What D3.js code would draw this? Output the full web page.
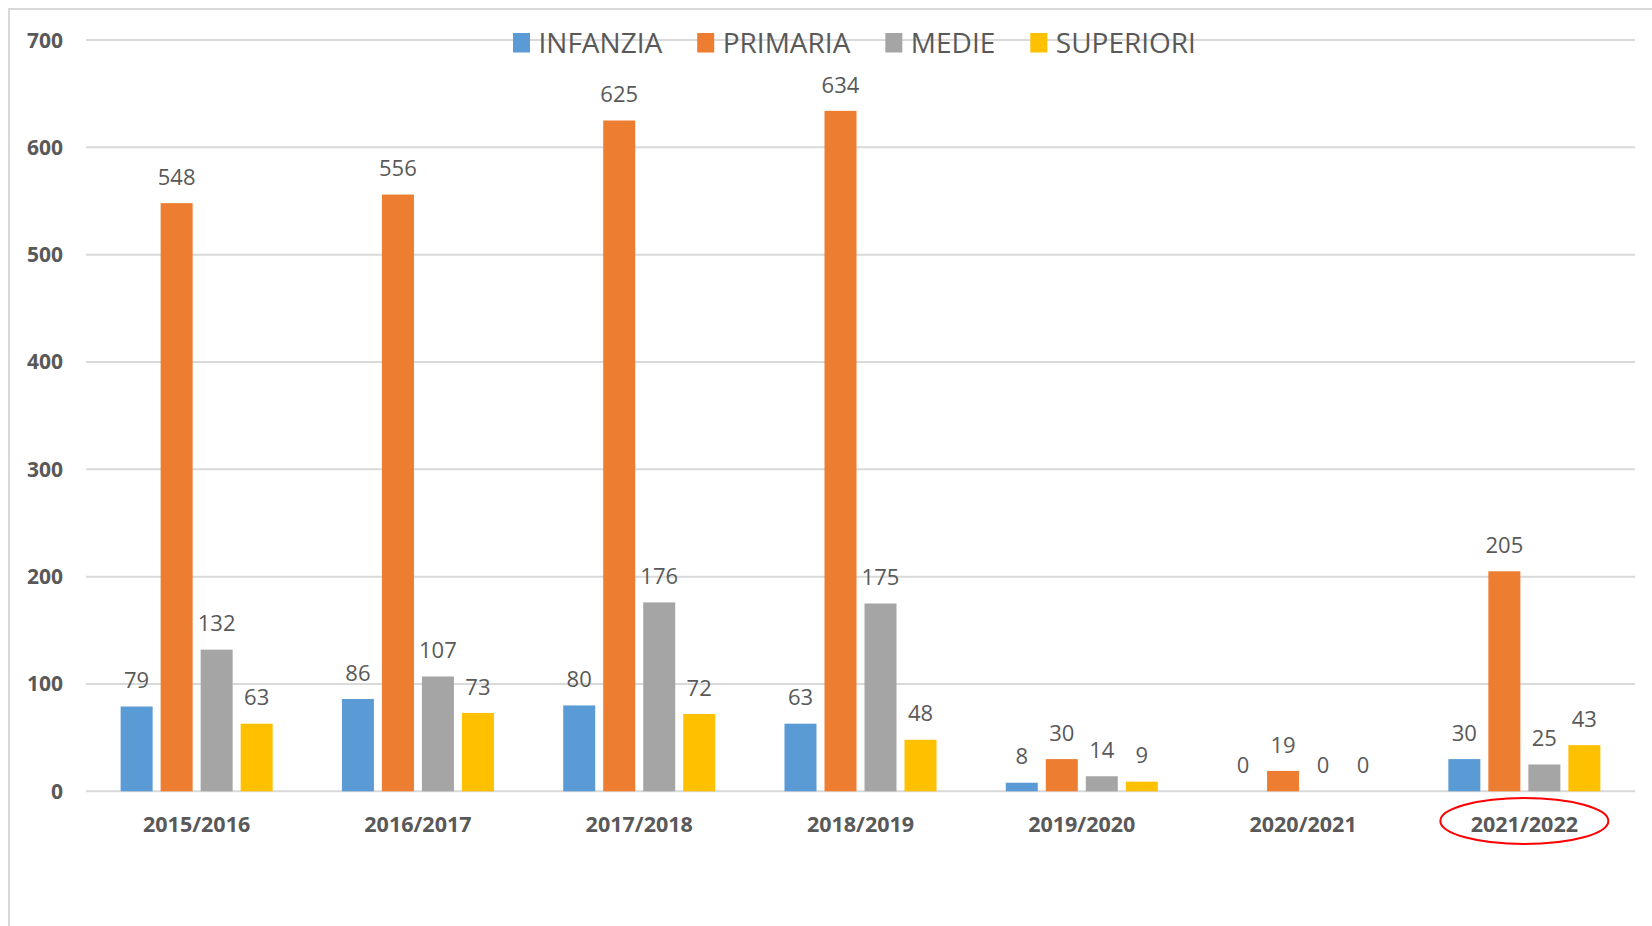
<!DOCTYPE html>
<html>
<head>
<meta charset="utf-8">
<script src="https://cdn.jsdelivr.net/npm/d3@7"></script>
<style>
  html, body { margin: 0; padding: 0; background: #fff; }
  svg { display: block; font-family: "Open Sans", sans-serif; }
</style>
</head>
<body>
<div class="chart"></div>
<script>
// data
var years = ["2015/2016", "2016/2017", "2017/2018", "2018/2019", "2019/2020", "2020/2021", "2021/2022"];
var series = ["INFANZIA", "PRIMARIA", "MEDIE", "SUPERIORI"];
var infanzia = [79, 86, 80, 63, 8, 0, 30];
var primaria = [548, 556, 625, 634, 30, 19, 205];
var medie = [132, 107, 176, 175, 14, 0, 25];
var superiori = [63, 73, 72, 48, 9, 0, 43];
var yTicks = [0, 100, 200, 300, 400, 500, 600, 700];
var colors = ["#5b9bd5", "#ed7d31", "#a5a5a5", "#ffc000"];
var highlighted = "2021/2022";

var values = [infanzia, primaria, medie, superiori];
var width = 1652, height = 926;
var textColor = "#595959";
var gridColor = "#d9d9d9";

var svg = d3.select(".chart").append("svg")
    .attr("width", width)
    .attr("height", height);

// chart border (runs off the right and bottom of the picture)
svg.append("path")
    .attr("d", "M9," + height + "V9H" + width)
    .attr("fill", "none")
    .attr("stroke", gridColor)
    .attr("stroke-width", 2);

var x0 = d3.scaleBand()
    .domain(years)
    .range([86, 1635])
    .paddingInner(0.313)
    .paddingOuter(0.1565);

var x1 = d3.scaleBand()
    .domain(series)
    .range([0, x0.bandwidth()])
    .paddingInner(0.2)
    .paddingOuter(0);

var y = d3.scaleLinear()
    .domain([0, 700])
    .range([791.3, 40]);

//gridlines
svg.append("g")
    .selectAll("line")
    .data(yTicks)
    .join("line")
    .attr("x1", 86)
    .attr("x2", 1635)
    .attr("y1", d => y(d))
    .attr("y2", d => y(d))
    .attr("stroke", gridColor)
    .attr("stroke-width", 2);

//y labels
svg.append("g")
    .selectAll("text")
    .data(yTicks)
    .join("text")
    .attr("x", 63)
    .attr("y", d => y(d) + 7.5)
    .attr("text-anchor", "end")
    .attr("font-size", "21px")
    .attr("font-weight", "bold")
    .attr("fill", textColor)
    .text(d => d);

//x labels
svg.append("g")
    .selectAll("text")
    .data(years)
    .join("text")
    .attr("x", d => x0(d) + x0.bandwidth() / 2)
    .attr("y", 831.7)
    .attr("text-anchor", "middle")
    .attr("font-size", "21.5px")
    .attr("font-weight", "bold")
    .attr("fill", textColor)
    .text(d => d);

//bars and labels
var groups = svg.append("g")
    .selectAll("g")
    .data(years)
    .join("g")
    .attr("transform", d => "translate(" + x0(d) + ",0)");

var cells = groups.selectAll("g")
    .data((d, i) => series.map((s, j) => ({ key: s, value: values[j][i], color: colors[j] })))
    .join("g");

cells.append("rect")
    .attr("x", d => x1(d.key))
    .attr("width", x1.bandwidth())
    .attr("y", d => y(d.value))
    .attr("height", d => y(0) - y(d.value))
    .attr("fill", d => d.color);

cells.append("text")
    .attr("x", d => x1(d.key) + x1.bandwidth() / 2)
    .attr("y", d => y(d.value) - 18.3)
    .attr("text-anchor", "middle")
    .attr("font-size", "22px")
    .attr("fill", textColor)
    .text(d => d.value);

//legend
var legend = svg.append("g");
var lx = 513;
series.forEach(function(s, i) {
    legend.append("rect")
        .attr("x", lx)
        .attr("y", 33)
        .attr("width", 17)
        .attr("height", 19.5)
        .attr("fill", colors[i]);
    var t = legend.append("text")
        .attr("x", lx + 25.5)
        .attr("y", 53.3)
        .attr("font-size", "28px")
        .attr("fill", textColor)
        .text(s);
    lx += 25.5 + t.node().getComputedTextLength() + 35;
});

//red ellipse round the last year
svg.append("ellipse")
    .attr("cx", x0(highlighted) + x0.bandwidth() / 2)
    .attr("cy", 821)
    .attr("rx", 84)
    .attr("ry", 23)
    .attr("fill", "none")
    .attr("stroke", "#ff0000")
    .attr("stroke-width", 2);
</script>
</body>
</html>
